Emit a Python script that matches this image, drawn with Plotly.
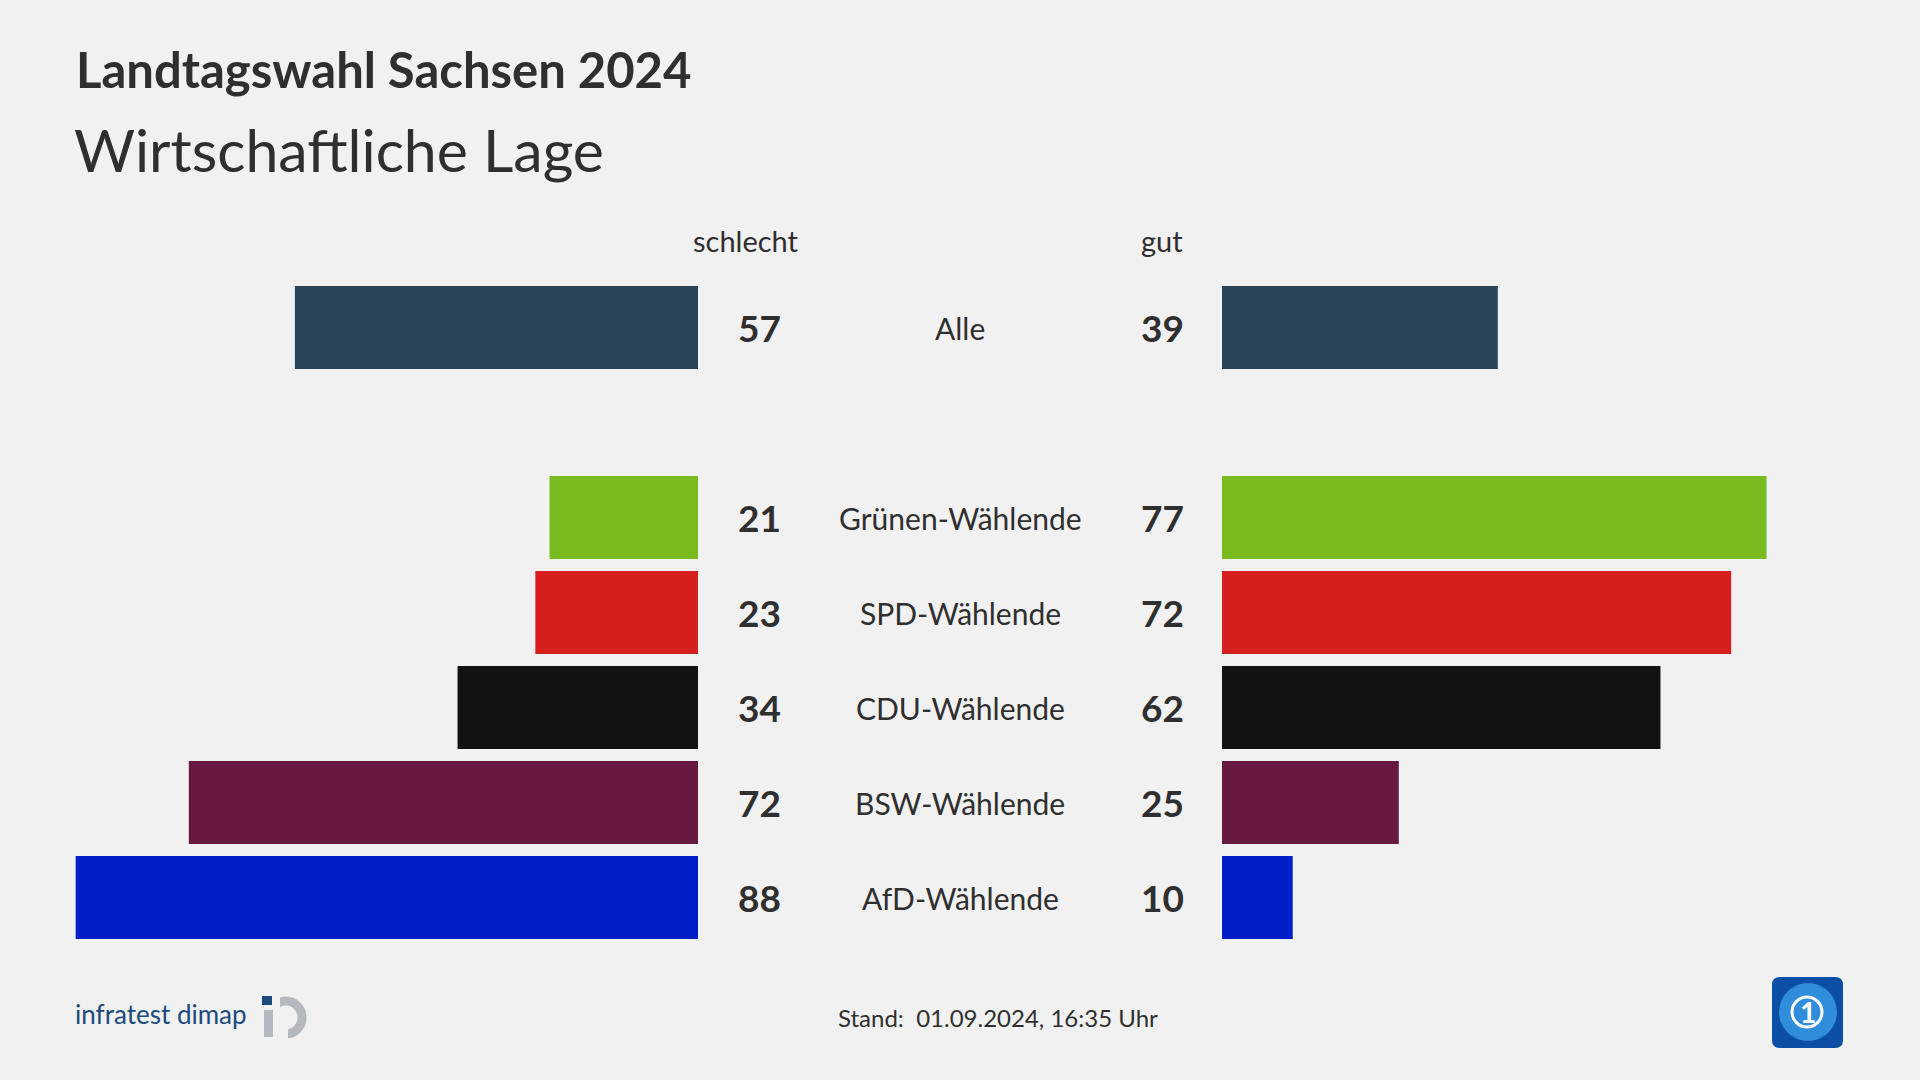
import plotly.graph_objects as go

# ---- data ----
categories = ["Alle", "Grünen-Wählende", "SPD-Wählende", "CDU-Wählende", "BSW-Wählende", "AfD-Wählende"]
schlecht = [57, 21, 23, 34, 72, 88]
gut = [39, 77, 72, 62, 25, 10]
bar_colors = ["#2a4457", "#7abc1e", "#d71f1f", "#121212", "#69183f", "#001fc8"]
axis_order = ["Alle", " ", "Grünen-Wählende", "SPD-Wählende", "CDU-Wählende", "BSW-Wählende", "AfD-Wählende"]
side_labels = ["schlecht", "gut"]
title = "Landtagswahl Sachsen 2024"
subtitle = "Wirtschaftliche Lage"
footer = "Stand:  01.09.2024, 16:35 Uhr"

W, H = 1920, 1080
FONT = "Lato"
TXT = "#2f2f2f"
BG = "#f1f1f1"
GREY = "#b3b9bf"
IDBLUE = "#1b4a7d"


def px(x):
    return x / W


def py(y):
    return 1 - y / H


fig = go.Figure()
fig.add_trace(go.Bar(y=categories, x=schlecht, orientation="h", xaxis="x", yaxis="y",
                     marker=dict(color=bar_colors, line=dict(width=0)), width=0.875,
                     hoverinfo="skip", showlegend=False))
fig.add_trace(go.Bar(y=categories, x=gut, orientation="h", xaxis="x2", yaxis="y",
                     marker=dict(color=bar_colors, line=dict(width=0)), width=0.875,
                     hoverinfo="skip", showlegend=False))

annotations = []
for c, s, g in zip(categories, schlecht, gut):
    annotations.append(dict(x=px(759), y=c, xref="paper", yref="y", text=f"<b>{s}</b>",
                            yanchor="middle", showarrow=False, font=dict(family=FONT, size=37, color=TXT)))
    annotations.append(dict(x=px(1162), y=c, xref="paper", yref="y", text=f"<b>{g}</b>",
                            yanchor="middle", showarrow=False, font=dict(family=FONT, size=37, color=TXT)))
    annotations.append(dict(x=0.5, y=c, xref="paper", yref="y", text=c,
                            yanchor="middle", showarrow=False, font=dict(family=FONT, size=30, color=TXT)))

annotations.append(dict(x=px(746), y=py(240), xref="paper", yref="paper", text=side_labels[0],
                        yanchor="middle", showarrow=False, font=dict(family=FONT, size=29, color=TXT)))
annotations.append(dict(x=px(1162), y=py(240), xref="paper", yref="paper", text=side_labels[1],
                        yanchor="middle", showarrow=False, font=dict(family=FONT, size=29, color=TXT)))

annotations.append(dict(x=px(74), y=py(69), xref="paper", yref="paper", text=f"<b>{title}</b>",
                        xanchor="left", yanchor="middle", showarrow=False,
                        font=dict(family=FONT, size=49, color=TXT)))
annotations.append(dict(x=px(72), y=py(150), xref="paper", yref="paper", text=subtitle,
                        xanchor="left", yanchor="middle", showarrow=False,
                        font=dict(family=FONT, size=59, color=TXT)))
annotations.append(dict(x=px(998), y=py(1017), xref="paper", yref="paper", text=footer,
                        yanchor="middle", showarrow=False, font=dict(family=FONT, size=24, color=TXT)))
annotations.append(dict(x=px(73), y=py(1014), xref="paper", yref="paper", text="infratest dimap",
                        xanchor="left", yanchor="middle", showarrow=False,
                        font=dict(family=FONT, size=26, color=IDBLUE)))
annotations.append(dict(x=px(1808), y=py(1012), xref="paper", yref="paper", text="<b>1</b>",
                        xanchor="center", yanchor="middle", showarrow=False,
                        font=dict(family=FONT, size=28, color="#ffffff")))

shapes = [
    # infratest dimap logo
    dict(type="circle", xref="paper", yref="paper", x0=px(270), x1=px(302), y0=py(1034), y1=py(1001),
         fillcolor="rgba(0,0,0,0)", line=dict(color=GREY, width=9)),
    dict(type="rect", xref="paper", yref="paper", x0=px(258), x1=px(280), y0=py(1044), y1=py(992),
         fillcolor=BG, line=dict(width=0)),
    dict(type="rect", xref="paper", yref="paper", x0=px(280), x1=px(288), y0=py(1044), y1=py(1028),
         fillcolor=BG, line=dict(width=0)),
    dict(type="rect", xref="paper", yref="paper", x0=px(264), x1=px(273), y0=py(1037), y1=py(1010),
         fillcolor=GREY, line=dict(width=0)),
    dict(type="rect", xref="paper", yref="paper", x0=px(262), x1=px(272), y0=py(1005), y1=py(996),
         fillcolor=IDBLUE, line=dict(width=0)),
    # ARD logo
    dict(type="path", xref="paper", yref="paper",
         path=(f"M {px(1780)} {py(977)} L {px(1835)} {py(977)} Q {px(1843)} {py(977)} {px(1843)} {py(985)} "
               f"L {px(1843)} {py(1040)} Q {px(1843)} {py(1048)} {px(1835)} {py(1048)} "
               f"L {px(1780)} {py(1048)} Q {px(1772)} {py(1048)} {px(1772)} {py(1040)} "
               f"L {px(1772)} {py(985)} Q {px(1772)} {py(977)} {px(1780)} {py(977)} Z"),
         fillcolor="#0b4ea6", line=dict(width=0)),
    dict(type="circle", xref="paper", yref="paper", x0=px(1779), x1=px(1837), y0=py(1041), y1=py(983),
         fillcolor="#2f8ddc", line=dict(width=0)),
    dict(type="circle", xref="paper", yref="paper", x0=px(1792), x1=px(1822), y0=py(1027), y1=py(997),
         fillcolor="rgba(0,0,0,0)", line=dict(color="#ffffff", width=3)),
]

fig.update_layout(
    width=W, height=H,
    paper_bgcolor=BG, plot_bgcolor=BG,
    margin=dict(l=0, r=0, t=0, b=0),
    barmode="overlay",
    xaxis=dict(domain=[0, px(698)], range=[98.7, 0], visible=False, fixedrange=True),
    xaxis2=dict(domain=[px(1222), 1], range=[0, 98.7], visible=False, anchor="y", fixedrange=True),
    yaxis=dict(domain=[py(945), py(280)], type="category", categoryorder="array",
               categoryarray=axis_order, range=[6.5, -0.5], visible=False, fixedrange=True),
    annotations=annotations,
    shapes=shapes,
    showlegend=False,
)

fig.write_html("out.html", config={"displayModeBar": False},
               post_script="document.body.style.margin='0';document.body.style.overflow='hidden';")
